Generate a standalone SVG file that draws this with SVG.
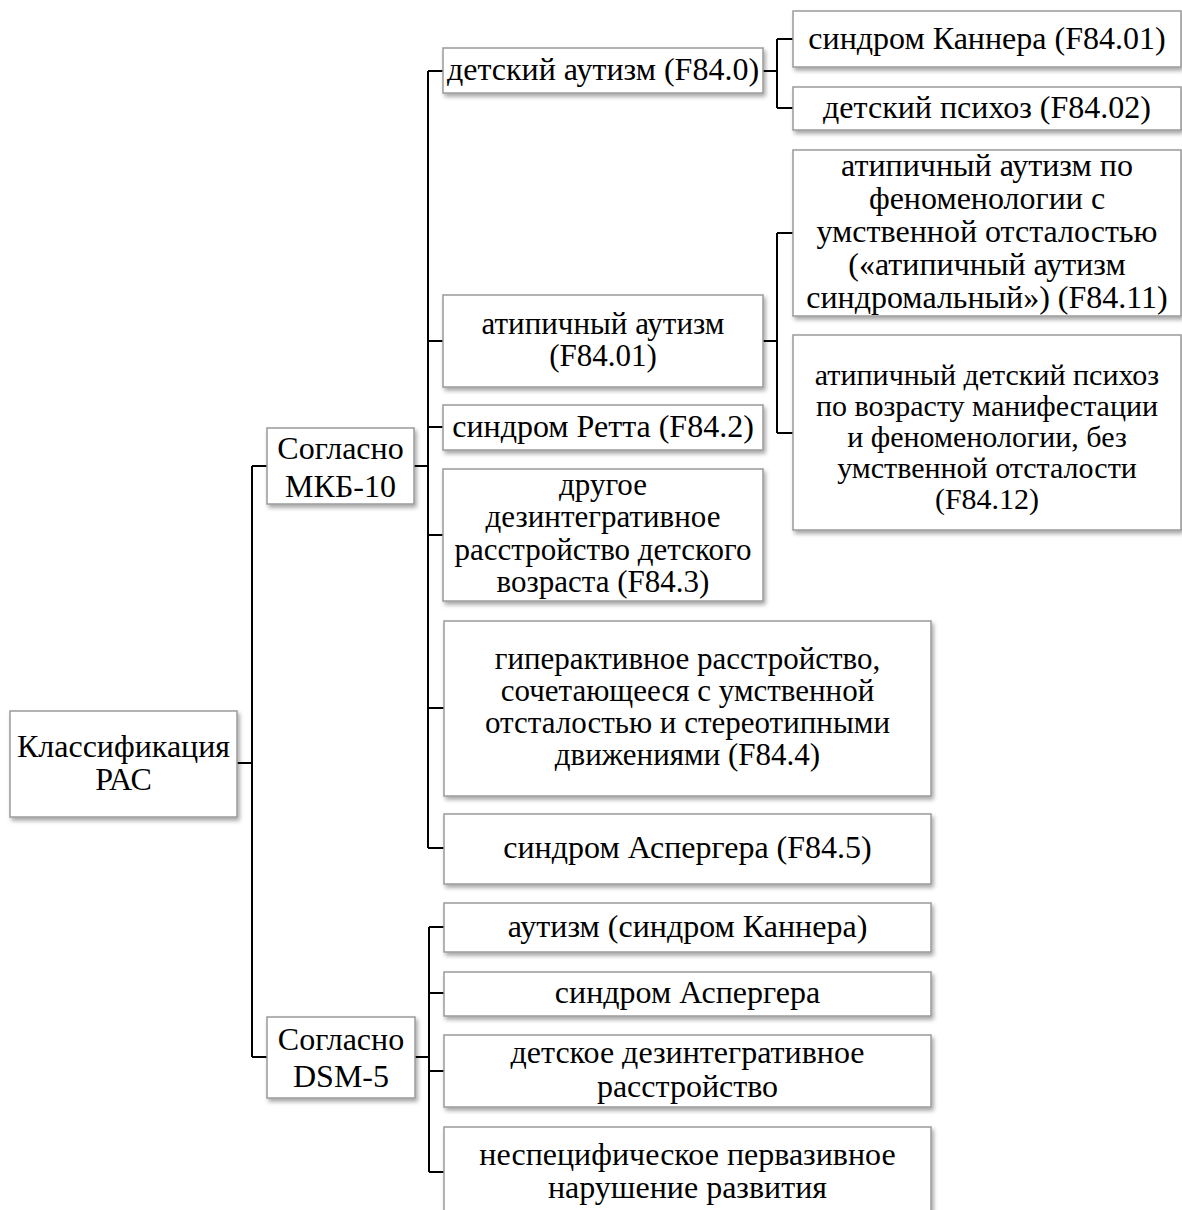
<svg xmlns="http://www.w3.org/2000/svg" width="1182" height="1210" viewBox="0 0 1182 1210">
<style>
.box{fill:#fff;stroke:#9a9a9a;stroke-width:1.5;filter:url(#sh)}
.t{font-family:"Liberation Serif","Times New Roman",serif;font-size:32px;fill:#000;text-anchor:middle}
.m{font-size:31px}
.sm{font-size:30px}
.con{fill:none;stroke:#000;stroke-width:2}
</style>
<defs>
<filter id="sh" x="-10%" y="-10%" width="120%" height="130%">
<feDropShadow dx="2" dy="3" stdDeviation="2" flood-color="#000" flood-opacity="0.35"/>
</filter>
</defs>
<rect width="1182" height="1210" fill="#fff"/>
<g id="connectors" class="con">
<path d="M237,763H252M252,466V1057M252,466H267M252,1057H267"/>
<path d="M414,466H428M428,71V848M428,71H443M428,341H443M428,427H443M428,535H443M428,708H444M428,848H444"/>
<path d="M763,71H777M777,39V108M777,39H793M777,108H793"/>
<path d="M763,341H777M777,233V433M777,233H793M777,433H793"/>
<path d="M415,1057H429M429,927V1172M429,927H444M429,993H444M429,1071H444M429,1172H444"/>
</g>
<g id="root"><rect class="box" x="10" y="711" width="227" height="106"/>
<text class="t" x="123.5" y="757">Классификация</text><text class="t" x="123.5" y="790">РАС</text></g>
<g id="mkb"><rect class="box" x="267" y="428" width="147" height="76"/>
<text class="t" x="340.5" y="459">Согласно</text><text class="t" x="340.5" y="497">МКБ-10</text></g>
<g id="dsm"><rect class="box" x="267" y="1017" width="148" height="81"/>
<text class="t" x="341" y="1050">Согласно</text><text class="t" x="341" y="1087">DSM-5</text></g>
<g id="n1"><rect class="box" x="443" y="48" width="320" height="45"/>
<text class="t" x="603" y="80">детский аутизм (F84.0)</text></g>
<g id="n1a"><rect class="box" x="793" y="11" width="388" height="56"/>
<text class="t" x="987" y="49">синдром Каннера (F84.01)</text></g>
<g id="n1b"><rect class="box" x="793" y="87" width="388" height="43"/>
<text class="t" x="987" y="118">детский психоз (F84.02)</text></g>
<g id="n2"><rect class="box" x="443" y="295" width="320" height="92"/>
<text class="t m" x="603" y="334">атипичный аутизм</text><text class="t m" x="603" y="366">(F84.01)</text></g>
<g id="n2a"><rect class="box" x="793" y="150" width="388" height="166"/>
<text class="t" x="987" y="176">атипичный аутизм по</text>
<text class="t" x="987" y="209">феноменологии с</text>
<text class="t" x="987" y="242">умственной отсталостью</text>
<text class="t" x="987" y="275">(«атипичный аутизм</text>
<text class="t" x="987" y="308">синдромальный») (F84.11)</text></g>
<g id="n2b"><rect class="box" x="793" y="335" width="388" height="195"/>
<text class="t sm" x="987" y="385">атипичный детский психоз</text>
<text class="t sm" x="987" y="416">по возрасту манифестации</text>
<text class="t sm" x="987" y="447">и феноменологии, без</text>
<text class="t sm" x="987" y="478">умственной отсталости</text>
<text class="t sm" x="987" y="509">(F84.12)</text></g>
<g id="n3"><rect class="box" x="443" y="405" width="320" height="45"/>
<text class="t" x="603" y="437">синдром Ретта (F84.2)</text></g>
<g id="n4"><rect class="box" x="443" y="469" width="320" height="132"/>
<text class="t m" x="603" y="495">другое</text>
<text class="t m" x="603" y="527">дезинтегративное</text>
<text class="t m" x="603" y="560">расстройство детского</text>
<text class="t m" x="603" y="592">возраста (F84.3)</text></g>
<g id="n5"><rect class="box" x="444" y="621" width="487" height="175"/>
<text class="t m" x="687.5" y="669">гиперактивное расстройство,</text>
<text class="t m" x="687.5" y="701">сочетающееся с умственной</text>
<text class="t m" x="687.5" y="733">отсталостью и стереотипными</text>
<text class="t m" x="687.5" y="765">движениями (F84.4)</text></g>
<g id="n6"><rect class="box" x="444" y="814" width="487" height="70"/>
<text class="t" x="687.5" y="858">синдром Аспергера (F84.5)</text></g>
<g id="d1"><rect class="box" x="444" y="903" width="487" height="49"/>
<text class="t" x="687.5" y="937">аутизм (синдром Каннера)</text></g>
<g id="d2"><rect class="box" x="444" y="972" width="487" height="44"/>
<text class="t" x="687.5" y="1003">синдром Аспергера</text></g>
<g id="d3"><rect class="box" x="444" y="1035" width="487" height="72"/>
<text class="t" x="687.5" y="1063">детское дезинтегративное</text>
<text class="t" x="687.5" y="1097">расстройство</text></g>
<g id="d4"><rect class="box" x="444" y="1127" width="487" height="95"/>
<text class="t" x="687.5" y="1165">неспецифическое первазивное</text>
<text class="t" x="687.5" y="1198">нарушение развития</text></g>
</svg>
